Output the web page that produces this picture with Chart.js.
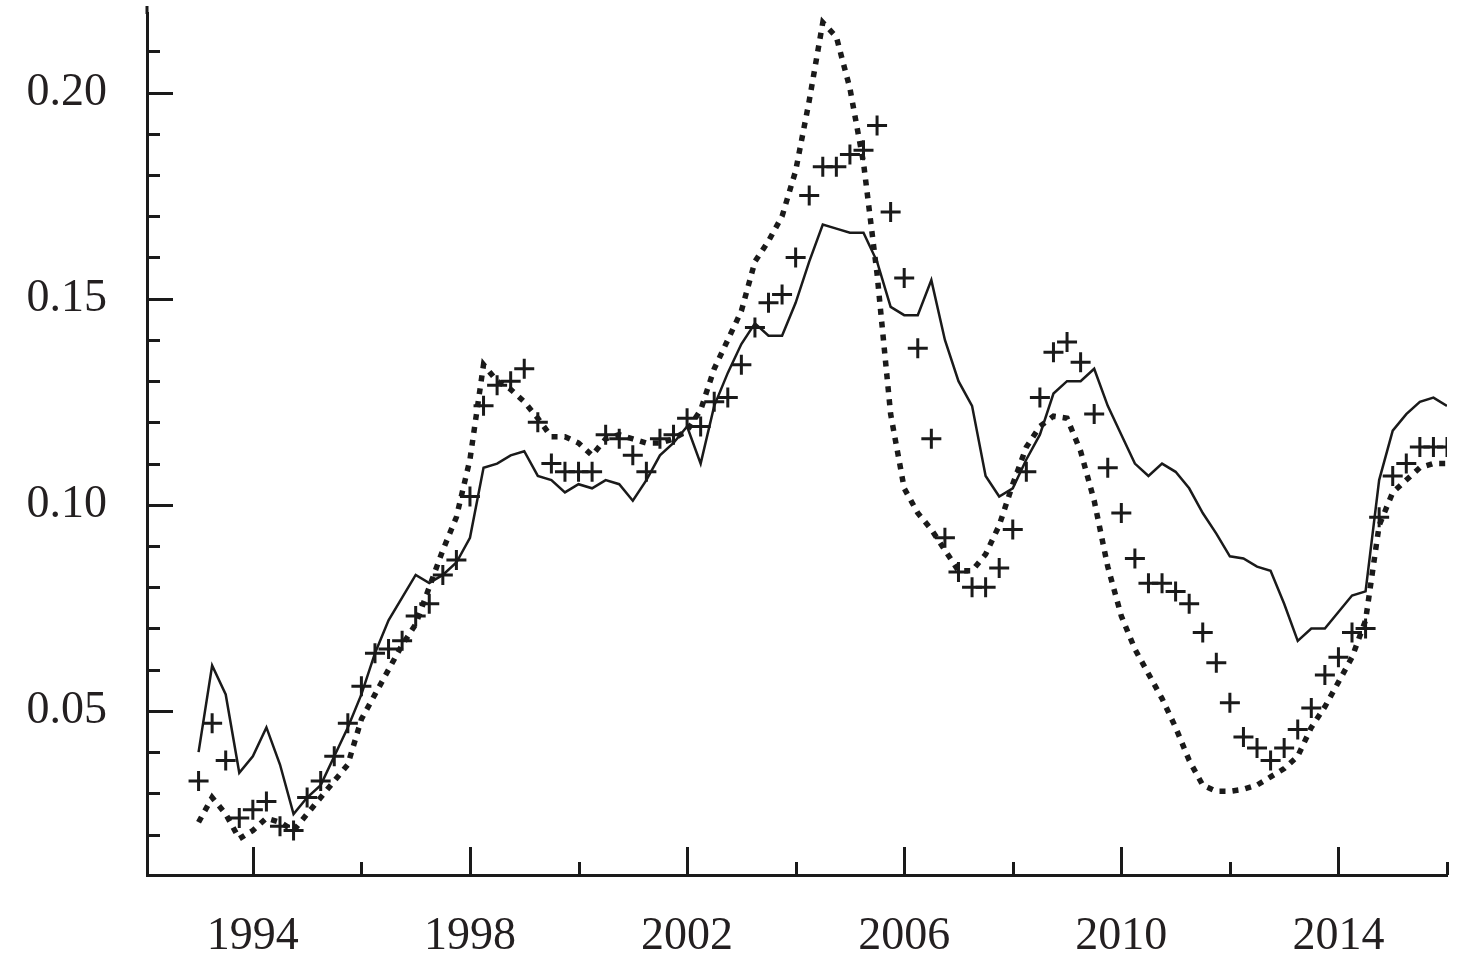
<!DOCTYPE html>
<html>
<head>
<meta charset="utf-8">
<script src="https://cdn.jsdelivr.net/npm/chart.js@4.4.1/dist/chart.umd.min.js"></script>
<style>
  html, body { margin: 0; padding: 0; background: #fff; }
  #wrap { width: 1476px; height: 970px; }
</style>
</head>
<body>
<div id="wrap"><canvas id="chart" width="1476" height="970"></canvas></div>
<script>
// quarterly observations, 1993Q1 .. 2016Q1
const quarters = Array.from({ length: 93 }, (_, i) => 1993 + i / 4);

const solidSeries = [
  0.040, 0.061, 0.054, 0.035, 0.039, 0.046, 0.037, 0.025, 0.029, 0.032,
  0.039, 0.046, 0.054, 0.064, 0.072, 0.0775, 0.083, 0.081, 0.083, 0.086,
  0.092, 0.109, 0.110, 0.112, 0.113, 0.107, 0.106, 0.103, 0.105, 0.104,
  0.106, 0.105, 0.101, 0.106, 0.112, 0.115, 0.119, 0.110, 0.124, 0.132,
  0.139, 0.144, 0.141, 0.141, 0.149, 0.159, 0.168, 0.167, 0.166, 0.166,
  0.159, 0.148, 0.146, 0.146, 0.1545, 0.140, 0.130, 0.124, 0.107, 0.102,
  0.104, 0.111, 0.117, 0.127, 0.130, 0.130, 0.133, 0.124, 0.117, 0.110,
  0.107, 0.110, 0.108, 0.104, 0.098, 0.093, 0.0875, 0.087, 0.085, 0.084,
  0.076, 0.067, 0.070, 0.070, 0.074, 0.078, 0.079, 0.106, 0.118, 0.122,
  0.125, 0.126, 0.124
];

const dottedSeries = [
  0.023, 0.029, 0.025, 0.019, 0.021, 0.024, 0.023, 0.021, 0.025, 0.029,
  0.033, 0.037, 0.048, 0.054, 0.060, 0.066, 0.071, 0.080, 0.089, 0.097,
  0.111, 0.134, 0.130, 0.128, 0.125, 0.121, 0.1165, 0.1165, 0.115, 0.112,
  0.116, 0.117, 0.116, 0.115, 0.115, 0.116, 0.118, 0.123, 0.133, 0.140,
  0.147, 0.159, 0.164, 0.170, 0.181, 0.198, 0.217, 0.2135, 0.201, 0.183,
  0.156, 0.122, 0.104, 0.098, 0.094, 0.089, 0.084, 0.084, 0.088, 0.095,
  0.105, 0.114, 0.119, 0.1215, 0.121, 0.113, 0.101, 0.085, 0.073, 0.065,
  0.059, 0.053, 0.046, 0.038, 0.032, 0.0305, 0.0305, 0.031, 0.032, 0.034,
  0.036, 0.039, 0.046, 0.051, 0.057, 0.063, 0.072, 0.095, 0.103, 0.106,
  0.109, 0.110, 0.110
];

const plusSeries = [
  0.033, 0.047, 0.038, 0.024, 0.026, 0.028, 0.022, 0.021, 0.029, 0.033,
  0.039, 0.047, 0.056, 0.064, 0.065, 0.067, 0.073, 0.076, 0.083, 0.0866,
  0.102, 0.124, 0.129, 0.130, 0.133, 0.120, 0.110, 0.108, 0.108, 0.108,
  0.117, 0.116, 0.112, 0.108, 0.116, 0.117, 0.121, 0.119, 0.125, 0.126,
  0.134, 0.143, 0.149, 0.151, 0.160, 0.175, 0.182, 0.182, 0.185, 0.186,
  0.192, 0.171, 0.155, 0.138, 0.116, 0.092, 0.0837, 0.080, 0.080, 0.0847,
  0.094, 0.108, 0.126, 0.137, 0.1395, 0.1346, 0.122, 0.109, 0.098, 0.087,
  0.081, 0.081, 0.079, 0.076, 0.069, 0.0617, 0.052, 0.0437, 0.041, 0.038,
  0.041, 0.0455, 0.0507, 0.0587, 0.063, 0.069, 0.070, 0.097, 0.107, 0.110,
  0.114, 0.114, 0.114
];

const xLabelYears = [1994, 1998, 2002, 2006, 2010, 2014];
const xMinorYears = [1996, 2000, 2004, 2008, 2012, 2016];
const yLabelValues = [0.05, 0.10, 0.15, 0.20];
const yMinorValues = [0.02, 0.03, 0.04, 0.06, 0.07, 0.08, 0.09, 0.11, 0.12, 0.13,
  0.14, 0.16, 0.17, 0.18, 0.19, 0.21];

const ink = "#1a1a1a";
const toPoints = (arr) => arr.map((v, i) => ({ x: quarters[i], y: v }));

// ticks drawn inside the plot, like the original figure
const innerTicks = {
  id: "innerTicks",
  afterDraw(chart) {
    const { ctx, chartArea, scales: { x, y } } = chart;
    ctx.save();
    ctx.strokeStyle = ink;
    ctx.lineWidth = 3;
    ctx.beginPath();
    const drawX = (v, len) => {
      const px = Math.round(x.getPixelForValue(v)) + 0.5;
      ctx.moveTo(px, y.bottom);
      ctx.lineTo(px, y.bottom - len);
    };
    const drawY = (v, len) => {
      const py = Math.round(y.getPixelForValue(v)) + 0.5;
      ctx.moveTo(x.left, py);
      ctx.lineTo(x.left + len, py);
    };
    xLabelYears.forEach((v) => drawX(v, 28));
    xMinorYears.forEach((v) => drawX(v, 13));
    yLabelValues.forEach((v) => drawY(v, 26));
    yMinorValues.forEach((v) => drawY(v, 13));
    // the vertical axis runs a little above the plot top
    ctx.moveTo(chartArea.left, chartArea.top + 1);
    ctx.lineTo(chartArea.left, chartArea.top - 7);
    ctx.stroke();
    ctx.restore();
  },
};

const font = { family: "'Liberation Serif', 'Times New Roman', serif", size: 46 };

new Chart(document.getElementById("chart"), {
  type: "line",
  data: {
    datasets: [
      {
        label: "solid",
        data: toPoints(solidSeries),
        borderColor: ink,
        borderWidth: 2.5,
        pointRadius: 0,
        tension: 0,
        fill: false,
      },
      {
        label: "dotted",
        data: toPoints(dottedSeries),
        borderColor: ink,
        borderWidth: 5.5,
        borderDash: [6, 7],
        borderCapStyle: "butt",
        pointRadius: 0,
        tension: 0,
        fill: false,
      },
      {
        label: "plus",
        data: toPoints(plusSeries),
        showLine: false,
        pointStyle: "cross",
        pointRadius: 10,
        pointBorderWidth: 3,
        pointBorderColor: ink,
        pointBackgroundColor: ink,
      },
    ],
  },
  options: {
    responsive: false,
    animation: false,
    devicePixelRatio: 1,
    layout: { padding: { top: 0, right: 29, left: 0, bottom: 0 } },
    plugins: { legend: { display: false }, tooltip: { enabled: false } },
    scales: {
      x: {
        type: "linear",
        min: 1992.05,
        max: 2016,
        afterBuildTicks: (scale) => {
          scale.ticks = xLabelYears.map((v) => ({ value: v }));
        },
        afterFit: (scale) => {
          scale.height = 95;
          scale.paddingLeft = 0;
          scale.paddingRight = 0;
        },
        grid: { display: false, drawTicks: false },
        border: { display: true, color: ink, width: 3 },
        ticks: {
          color: "#231f20",
          font: font,
          padding: 34,
          maxRotation: 0,
          autoSkip: false,
          callback: (v) => String(v),
        },
      },
      y: {
        type: "linear",
        min: 0.0102,
        max: 0.2193,
        afterBuildTicks: (scale) => {
          scale.ticks = yLabelValues.map((v) => ({ value: v }));
        },
        afterFit: (scale) => {
          scale.width = 147;
          scale.paddingTop = 0;
          scale.paddingBottom = 0;
        },
        grid: { display: false, drawTicks: false },
        border: { display: true, color: ink, width: 3 },
        ticks: {
          color: "#231f20",
          font: font,
          padding: 40,
          autoSkip: false,
          callback: (v) => v.toFixed(2),
        },
      },
    },
  },
  plugins: [innerTicks],
});
</script>
</body>
</html>
